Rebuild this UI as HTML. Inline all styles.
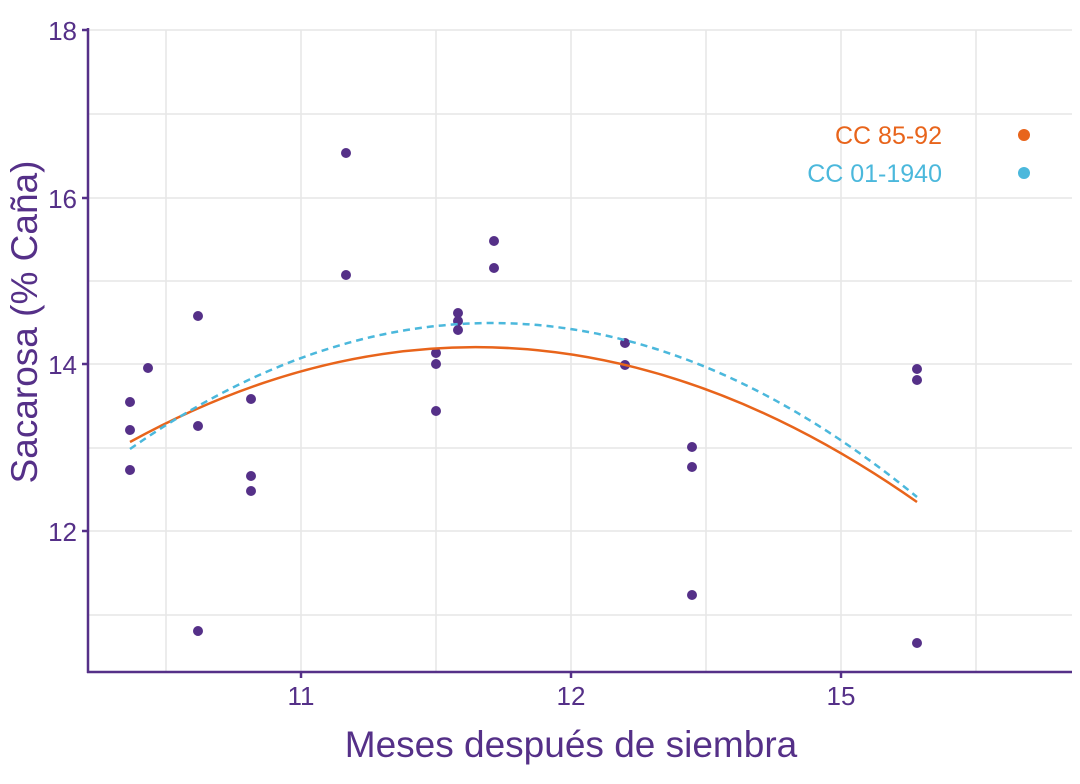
<!DOCTYPE html>
<html><head><meta charset="utf-8"><style>
html,body{margin:0;padding:0;background:#fff;}
svg{display:block;font-family:"Liberation Sans",sans-serif;}
</style></head><body>
<svg width="1080" height="784" viewBox="0 0 1080 784">
<g stroke="#e6e6e6" stroke-width="1.5">
<line x1="166" y1="30" x2="166" y2="672"/><line x1="301" y1="30" x2="301" y2="672"/>
<line x1="436" y1="30" x2="436" y2="672"/><line x1="571" y1="30" x2="571" y2="672"/>
<line x1="706" y1="30" x2="706" y2="672"/><line x1="841" y1="30" x2="841" y2="672"/>
<line x1="976" y1="30" x2="976" y2="672"/>
<line x1="88" y1="30" x2="1072" y2="30"/><line x1="88" y1="114" x2="1072" y2="114"/>
<line x1="88" y1="198" x2="1072" y2="198"/><line x1="88" y1="281" x2="1072" y2="281"/>
<line x1="88" y1="364" x2="1072" y2="364"/><line x1="88" y1="448" x2="1072" y2="448"/>
<line x1="88" y1="531" x2="1072" y2="531"/><line x1="88" y1="615" x2="1072" y2="615"/>
</g>
<g stroke="#553088" stroke-width="2.5">
<line x1="88" y1="28" x2="88" y2="673"/><line x1="87" y1="672" x2="1072" y2="672"/>
<line x1="82" y1="30" x2="88" y2="30"/><line x1="82" y1="198" x2="88" y2="198"/>
<line x1="82" y1="364" x2="88" y2="364"/><line x1="82" y1="531" x2="88" y2="531"/>
<line x1="301" y1="672" x2="301" y2="678"/><line x1="571" y1="672" x2="571" y2="678"/>
<line x1="841" y1="672" x2="841" y2="678"/>
</g>
<g fill="#553088" font-size="26">
<text x="77" y="40" text-anchor="end">18</text>
<text x="77" y="208" text-anchor="end">16</text>
<text x="77" y="374" text-anchor="end">14</text>
<text x="77" y="541" text-anchor="end">12</text>
<text x="301" y="705" text-anchor="middle">11</text>
<text x="571" y="705" text-anchor="middle">12</text>
<text x="841" y="705" text-anchor="middle">15</text>
<text x="571" y="757" text-anchor="middle" font-size="37">Meses después de siembra</text>
<text transform="translate(37,322) rotate(-90)" text-anchor="middle" font-size="37">Sacarosa (% Caña)</text>
</g>
<g fill="#553088">
<circle cx="130" cy="402" r="5"/><circle cx="130" cy="430" r="5"/><circle cx="130" cy="470" r="5"/>
<circle cx="148" cy="368" r="5"/><circle cx="198" cy="316" r="5"/><circle cx="198" cy="426" r="5"/>
<circle cx="198" cy="631" r="5"/><circle cx="251" cy="399" r="5"/><circle cx="251" cy="476" r="5"/>
<circle cx="251" cy="491" r="5"/><circle cx="346" cy="153" r="5"/><circle cx="346" cy="275" r="5"/>
<circle cx="436" cy="353" r="5"/><circle cx="436" cy="364" r="5"/><circle cx="436" cy="411" r="5"/>
<circle cx="458" cy="313" r="5"/><circle cx="458" cy="321" r="5"/><circle cx="458" cy="330" r="5"/>
<circle cx="494" cy="241" r="5"/><circle cx="494" cy="268" r="5"/><circle cx="625" cy="343" r="5"/>
<circle cx="625" cy="365" r="5"/><circle cx="692" cy="447" r="5"/><circle cx="692" cy="467" r="5"/>
<circle cx="692" cy="595" r="5"/><circle cx="917" cy="369" r="5"/><circle cx="917" cy="380" r="5"/>
<circle cx="917" cy="643" r="5"/>
</g>
<path d="M130,442 Q523.5,226 917,502" fill="none" stroke="#e8641b" stroke-width="2.5"/>
<path d="M130,449 Q523.5,175 917,497" fill="none" stroke="#4bb8dc" stroke-width="2.5" stroke-dasharray="7,5"/>
<text x="942" y="144" text-anchor="end" font-size="25" fill="#e8641b">CC 85-92</text>
<text x="942" y="182" text-anchor="end" font-size="25" fill="#4bb8dc">CC 01-1940</text>
<circle cx="1024" cy="135" r="6" fill="#e8641b"/>
<circle cx="1024" cy="173" r="6" fill="#4bb8dc"/>
</svg>
</body></html>
